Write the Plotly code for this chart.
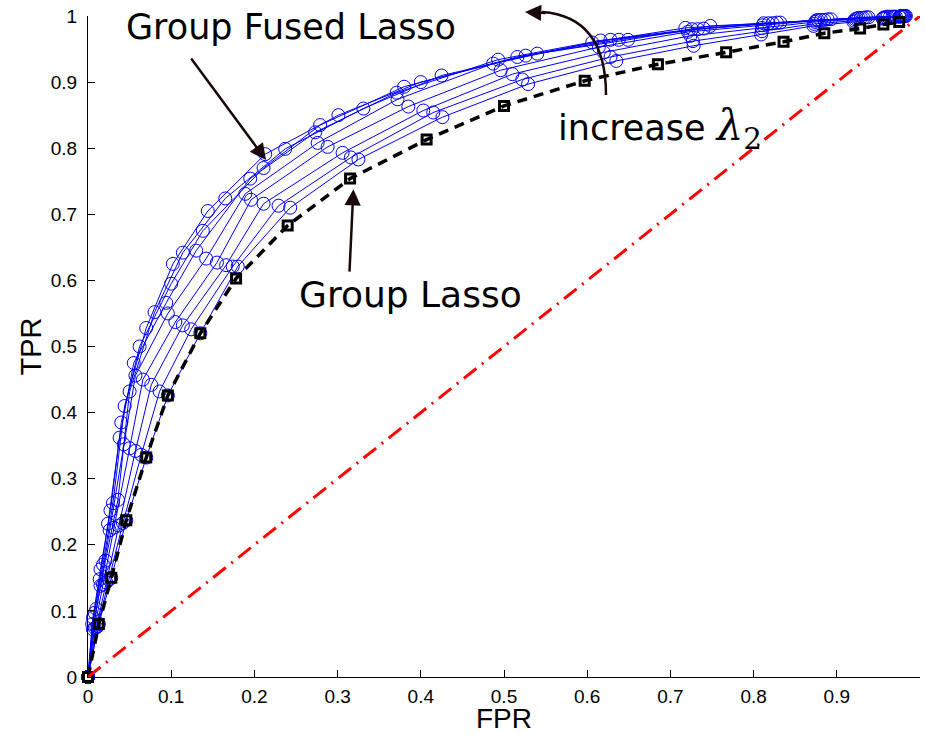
import plotly.graph_objects as go

# Group Lasso ROC (black dashed, squares)
GL_FPR = [0, 0.013, 0.028, 0.046, 0.070, 0.096, 0.135, 0.178, 0.240, 0.315, 0.407,
          0.500, 0.597, 0.685, 0.767, 0.836, 0.885, 0.928, 0.956, 0.975]
GL_TPR = [0, 0.080, 0.150, 0.237, 0.332, 0.426, 0.520, 0.603, 0.683, 0.754, 0.813,
          0.864, 0.902, 0.927, 0.945, 0.961, 0.974, 0.981, 0.987, 0.991]

# Group Fused Lasso ROC curves, one row per lambda_2 value (increasing)
FUSED_FPR = [
    [0, 0.013, 0.028, 0.046, 0.070, 0.096, 0.135, 0.180, 0.243, 0.325, 0.426, 0.529, 0.635, 0.728, 0.809, 0.872, 0.920, 0.955, 0.975],
    [0, 0.012, 0.025, 0.042, 0.064, 0.086, 0.124, 0.174, 0.229, 0.316, 0.415, 0.522, 0.628, 0.727, 0.810, 0.873, 0.921, 0.956, 0.976],
    [0, 0.010, 0.022, 0.037, 0.057, 0.076, 0.114, 0.166, 0.211, 0.306, 0.403, 0.510, 0.620, 0.724, 0.810, 0.874, 0.922, 0.957, 0.977],
    [0, 0.008, 0.018, 0.031, 0.050, 0.066, 0.105, 0.155, 0.196, 0.288, 0.385, 0.496, 0.614, 0.721, 0.811, 0.875, 0.924, 0.959, 0.978],
    [0, 0.006, 0.015, 0.026, 0.043, 0.057, 0.096, 0.142, 0.189, 0.276, 0.372, 0.487, 0.606, 0.718, 0.812, 0.877, 0.926, 0.961, 0.979],
    [0, 0.005, 0.014, 0.024, 0.038, 0.055, 0.094, 0.130, 0.195, 0.273, 0.371, 0.493, 0.616, 0.726, 0.818, 0.881, 0.929, 0.964, 0.980],
    [0, 0.006, 0.015, 0.027, 0.040, 0.062, 0.100, 0.138, 0.211, 0.279, 0.380, 0.516, 0.628, 0.733, 0.823, 0.885, 0.932, 0.967, 0.981],
    [0, 0.008, 0.018, 0.030, 0.044, 0.070, 0.102, 0.144, 0.213, 0.301, 0.400, 0.526, 0.638, 0.740, 0.828, 0.889, 0.935, 0.969, 0.982],
    [0, 0.010, 0.021, 0.036, 0.050, 0.080, 0.114, 0.165, 0.237, 0.331, 0.425, 0.540, 0.649, 0.748, 0.832, 0.893, 0.938, 0.971, 0.983],
]
FUSED_TPR = [
    [0, 0.080, 0.150, 0.237, 0.332, 0.426, 0.520, 0.621, 0.710, 0.783, 0.847, 0.897, 0.932, 0.955, 0.972, 0.985, 0.991, 0.996, 0.999],
    [0, 0.077, 0.147, 0.233, 0.336, 0.432, 0.526, 0.621, 0.713, 0.786, 0.854, 0.904, 0.938, 0.962, 0.977, 0.988, 0.993, 0.997, 0.999],
    [0, 0.075, 0.143, 0.229, 0.342, 0.442, 0.532, 0.623, 0.716, 0.793, 0.857, 0.912, 0.945, 0.970, 0.982, 0.991, 0.995, 0.998, 1.0],
    [0, 0.074, 0.140, 0.226, 0.346, 0.450, 0.537, 0.627, 0.722, 0.802, 0.863, 0.918, 0.953, 0.976, 0.986, 0.993, 0.996, 0.998, 1.0],
    [0, 0.072, 0.138, 0.222, 0.352, 0.456, 0.550, 0.633, 0.731, 0.808, 0.874, 0.928, 0.960, 0.982, 0.989, 0.994, 0.997, 0.999, 1.0],
    [0, 0.080, 0.148, 0.232, 0.362, 0.475, 0.566, 0.645, 0.754, 0.824, 0.884, 0.934, 0.963, 0.980, 0.989, 0.994, 0.997, 0.999, 1.0],
    [0, 0.090, 0.163, 0.252, 0.385, 0.500, 0.595, 0.675, 0.770, 0.835, 0.893, 0.938, 0.964, 0.980, 0.989, 0.994, 0.997, 0.999, 1.0],
    [0, 0.097, 0.170, 0.263, 0.410, 0.528, 0.625, 0.705, 0.791, 0.850, 0.900, 0.940, 0.964, 0.981, 0.990, 0.995, 0.998, 0.999, 1.0],
    [0, 0.103, 0.176, 0.268, 0.432, 0.552, 0.642, 0.724, 0.799, 0.860, 0.910, 0.943, 0.964, 0.985, 0.990, 0.995, 0.998, 0.999, 1.0],
]

# Chance line
DIAG = [0, 1]

TICK_VALS = [0, 0.1, 0.2, 0.3, 0.4, 0.5, 0.6, 0.7, 0.8, 0.9, 1]
X_TICK_TEXT = ["0", "0.1", "0.2", "0.3", "0.4", "0.5", "0.6", "0.7", "0.8", "0.9", ""]
Y_TICK_TEXT = ["0", "0.1", "0.2", "0.3", "0.4", "0.5", "0.6", "0.7", "0.8", "0.9", "1"]

BLUE = "#0000ff"
ARROW = "#1a0808"
TXT_FONT = "DejaVu Sans"

fig = go.Figure()

for fx, fy in zip(FUSED_FPR, FUSED_TPR):
    fig.add_trace(go.Scatter(
        x=fx, y=fy, mode="lines+markers", cliponaxis=False,
        line=dict(color=BLUE, width=1),
        marker=dict(symbol="circle-open", size=13, color=BLUE, line=dict(width=1, color=BLUE)),
        showlegend=False, hoverinfo="skip"))

fig.add_trace(go.Scatter(
    x=GL_FPR, y=GL_TPR, mode="lines+markers", cliponaxis=False,
    line=dict(color="black", width=3.5, dash="10px,7px"),
    marker=dict(symbol="square-open", size=9, color="black", line=dict(width=3, color="black")),
    showlegend=False, hoverinfo="skip"))

fig.add_trace(go.Scatter(
    x=DIAG, y=DIAG, mode="lines",
    line=dict(color="#ff0000", width=3, dash="16px,7px,2px,7px"),
    showlegend=False, hoverinfo="skip"))

axis_common = dict(
    range=[0, 1], tickvals=TICK_VALS, ticks="inside", ticklen=7, tickwidth=1,
    tickcolor="black", showline=True, linecolor="black", linewidth=1,
    showgrid=False, zeroline=False, mirror=False, automargin=False,
    ticklabeloverflow="allow",
    tickfont=dict(family="Liberation Sans", size=19, color="black"),
)

fig.update_layout(
    width=925, height=734, autosize=False,
    margin=dict(l=88, r=5, t=16, b=57),
    paper_bgcolor="white", plot_bgcolor="white",
    xaxis=dict(axis_common, ticktext=X_TICK_TEXT, ticklabelstandoff=2,
               title=dict(text="FPR", font=dict(family="Liberation Sans", size=28, color="black"), standoff=7)),
    yaxis=dict(axis_common, ticktext=Y_TICK_TEXT, ticklabelstandoff=6,
               title=dict(text="TPR", font=dict(family="Liberation Sans", size=29, color="black"), standoff=0)),
)

# Text labels
fig.add_annotation(xref="paper", yref="paper", x=0.244, y=0.983, xanchor="center", yanchor="middle",
                   text="Group Fused Lasso",
                   showarrow=False, font=dict(family=TXT_FONT, size=35, color="black"))
fig.add_annotation(xref="paper", yref="paper", x=0.388, y=0.578, xanchor="center", yanchor="middle",
                   text="Group Lasso",
                   showarrow=False, font=dict(family=TXT_FONT, size=36, color="black"))
fig.add_annotation(xref="paper", yref="paper", x=0.562, y=0.83, xanchor="left", yanchor="middle",
                   text="increase <span style='font-family:DejaVu Serif;font-size:42px'><i>λ</i><sub>2</sub></span>",
                   showarrow=False, font=dict(family=TXT_FONT, size=35, color="black"))

# Straight arrows
fig.add_annotation(xref="paper", yref="paper", x=0.214, y=0.782, ax=-76, ay=-103,
                   text="", showarrow=True, arrowhead=2, arrowsize=1.3, arrowwidth=2.5,
                   arrowcolor=ARROW, standoff=0)
fig.add_annotation(xref="paper", yref="paper", x=0.319, y=0.738, ax=-4, ay=84,
                   text="", showarrow=True, arrowhead=2, arrowsize=1.3, arrowwidth=2.5,
                   arrowcolor=ARROW, standoff=0)

# Curved arrow for "increase lambda_2"
fig.add_shape(type="path", xref="paper", yref="paper",
              path="M 0.6226,0.8806 Q 0.6226,0.9992 0.5457,1.0060",
              line=dict(color=ARROW, width=2.5))
fig.add_annotation(xref="paper", yref="paper", x=0.5252, y=1.0060, ax=22, ay=1,
                   text="", showarrow=True, arrowhead=2, arrowsize=1.3, arrowwidth=2.5,
                   arrowcolor=ARROW, standoff=0)

# remove the default page margin so the figure fills the window exactly
fig.write_html("out.html", config={"displayModeBar": False},
               post_script="document.body.style.margin='0';")
